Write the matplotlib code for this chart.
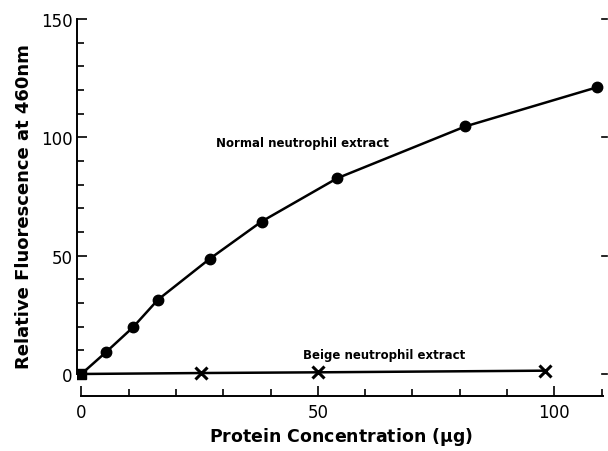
import matplotlib
matplotlib.use("Agg")
import matplotlib.pyplot as plt
from matplotlib.ticker import MultipleLocator

# values
normal_x = [0, 5.3, 10.9, 16.2, 27.1, 38.1, 54.1, 81.2, 109.0]
normal_y = [0, 9.4, 19.7, 31.4, 48.6, 64.4, 82.7, 104.6, 121.1]
beige_x = [0, 25.3, 50.0, 98.0]
beige_y = [0, 0.4, 0.7, 1.4]

plt.rcParams["font.family"] = ["DejaVu Sans"]

fig = plt.figure(figsize=(6.08, 4.52), dpi=100)
ax = fig.add_axes([0.1261, 0.1217, 0.868, 0.8447])

ax.plot(normal_x, normal_y, color="black", lw=1.8, marker="o", ms=7.5,
        markevery=list(range(1, len(normal_x))))
ax.plot(beige_x, beige_y, color="black", lw=1.8, marker="x", ms=8, mew=2.2,
        markevery=list(range(1, len(beige_x))))
ax.plot([0], [0], marker="s", color="black", ms=7)

ax.text(46.7, 98, "Normal neutrophil extract", fontsize=8.5, fontweight="bold",
        ha="center", va="center")
ax.text(64.1, 8.4, "Beige neutrophil extract", fontsize=8.5, fontweight="bold",
        ha="center", va="center")

ax.set_xlim(-1, 110.6)
ax.set_ylim(-9.3, 152)

ax.spines["top"].set_visible(False)
ax.spines["right"].set_visible(False)
ax.spines["left"].set_bounds(0, 150)
ax.spines["bottom"].set_bounds(0, 110.2)
for s in ("left", "bottom"):
    ax.spines[s].set_linewidth(1.4)

ax.set_xticks([0, 50, 100])
ax.set_yticks([0, 50, 100, 150])
ax.xaxis.set_minor_locator(MultipleLocator(10))
ax.yaxis.set_minor_locator(MultipleLocator(10))

ax.tick_params(axis="x", which="both", direction="in", width=1.2)
ax.tick_params(axis="x", which="major", length=7, pad=5, labelsize=12)
ax.tick_params(axis="x", which="minor", length=5)
ax.tick_params(axis="y", which="both", direction="in", width=1.2)
ax.tick_params(axis="y", which="major", length=7, pad=3, labelsize=12)
ax.tick_params(axis="y", which="minor", length=5)

# short dashes on the right edge at the major levels
for yv in [0, 50, 100, 150]:
    ax.plot([110.0, 111.2], [yv, yv], color="black", lw=1.2, clip_on=False)

ax.set_xlabel("Protein Concentration ($\\mathbf{\\mu}$g)", fontsize=12.5,
              fontweight="bold", labelpad=3)
ax.set_ylabel("Relative Fluorescence at 460nm", fontsize=13,
              fontweight="bold", labelpad=6)

fig.savefig("out.png", dpi=100)
